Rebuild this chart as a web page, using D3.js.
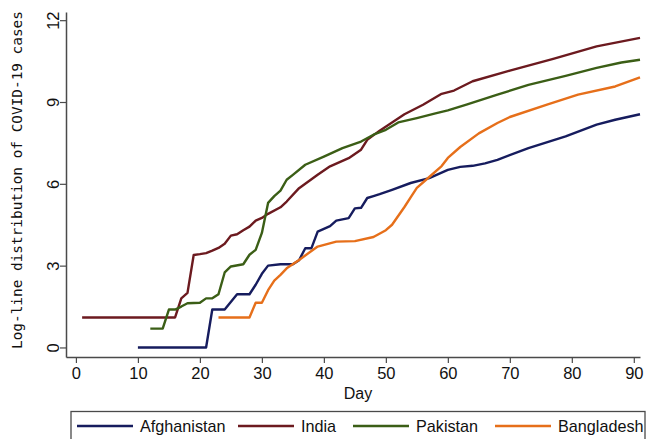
<!DOCTYPE html>
<html>
<head>
<meta charset="utf-8">
<script src="https://cdn.jsdelivr.net/npm/d3@7"></script>
<style>
  body { margin: 0; background: #fff; }
  svg { display: block; }
</style>
</head>
<body>
<svg id="chart" width="646" height="439"></svg>
<script>
// data, [day, log cases]
let afghanistan = [[10,0],[21,0],[22,1.39],[24,1.39],[26,1.95],[28,1.95],[29,2.3],[30,2.7],[31,3.0],[33,3.05],[35,3.05],[36,3.2],[37,3.64],[38,3.64],[39,4.25],[40,4.35],[41,4.45],[42,4.65],[44,4.74],[45,5.1],[46,5.12],[47,5.48],[48,5.55],[49,5.62],[51,5.78],[54,6.03],[57,6.21],[60,6.51],[62,6.62],[64,6.66],[66,6.75],[68,6.88],[73,7.31],[79,7.74],[84,8.17],[87,8.35],[91,8.55]];
let india = [[1,1.1],[16,1.1],[17,1.8],[18,2.0],[19,3.39],[20,3.42],[21,3.46],[22,3.55],[23,3.65],[24,3.8],[25,4.1],[26,4.15],[27,4.3],[28,4.43],[29,4.65],[30,4.75],[31,4.9],[33,5.14],[34,5.35],[36,5.84],[39,6.33],[41,6.64],[44,6.94],[46,7.25],[47,7.61],[49,7.95],[51,8.25],[53,8.55],[56,8.9],[59,9.3],[61,9.42],[64,9.76],[70,10.15],[77,10.58],[84,11.04],[91,11.35]];
let pakistan = [[12,0.69],[14,0.69],[15,1.39],[16,1.39],[17,1.5],[18,1.62],[20,1.64],[21,1.8],[22,1.8],[23,1.95],[24,2.75],[25,2.97],[27,3.05],[28,3.4],[29,3.58],[30,4.2],[31,5.3],[32,5.55],[33,5.75],[34,6.15],[35,6.33],[37,6.7],[40,7.0],[43,7.31],[46,7.55],[48,7.8],[50,7.98],[52,8.25],[55,8.41],[58,8.58],[60,8.69],[63,8.9],[68,9.27],[73,9.63],[79,9.96],[84,10.25],[88,10.45],[91,10.55]];
let bangladesh = [[23,1.1],[28,1.1],[29,1.64],[30,1.64],[31,2.1],[32,2.45],[33,2.66],[34,2.9],[36,3.21],[39,3.7],[42,3.88],[45,3.9],[48,4.05],[50,4.3],[51,4.5],[53,5.15],[54,5.5],[55,5.85],[57,6.25],[59,6.65],[60,6.95],[62,7.35],[65,7.85],[68,8.23],[70,8.45],[76,8.9],[81,9.27],[87,9.57],[91,9.9]];

let countries = ['Afghanistan', 'India', 'Pakistan', 'Bangladesh'];
let colors = ['#161c5e', '#6c1a1f', '#3b5e16', '#e66f1a'];
let xTicks = [0, 10, 20, 30, 40, 50, 60, 70, 80, 90];
let yTicks = [0, 3, 6, 9, 12];

let series = [afghanistan, india, pakistan, bangladesh];

let svg = d3.select('#chart');

// plot box
let plotLeft = 66, plotRight = 640, plotTop = 12, plotBottom = 357;

let x = d3.scaleLinear().domain([-1.6, 91]).range([plotLeft, plotRight]);
let y = d3.scaleLinear().domain([-0.35, 12.3]).range([plotBottom, plotTop]);

// axes
let xAxis = svg.append('g')
    .attr('transform', 'translate(0,' + plotBottom + ')')
    .call(d3.axisBottom(x).tickValues(xTicks).tickSize(6).tickPadding(4).tickSizeOuter(0));
let yAxis = svg.append('g')
    .attr('transform', 'translate(' + plotLeft + ',0)')
    .call(d3.axisLeft(y).tickValues(yTicks).tickSize(6).tickPadding(4).tickSizeOuter(0));

[xAxis, yAxis].forEach(function(a) {
    a.select('.domain').attr('stroke', '#4a4a4a').attr('stroke-width', 1.5);
    a.selectAll('.tick line').attr('stroke', '#4a4a4a').attr('stroke-width', 1.2);
    a.selectAll('text')
        .attr('fill', '#111')
        .style('font-family', '"Liberation Sans", Arial, sans-serif')
        .style('font-size', '16.5px');
});

// y labels are turned like stata does
yAxis.selectAll('.tick text')
    .attr('x', null)
    .attr('text-anchor', 'middle')
    .attr('transform', 'translate(-13,0) rotate(-90)')
    .attr('dy', '0.35em');

// axis titles
svg.append('text')
    .attr('x', 358).attr('y', 399)
    .attr('text-anchor', 'middle')
    .style('font-family', '"Liberation Sans", Arial, sans-serif')
    .style('font-size', '16px')
    .attr('fill', '#111')
    .text('Day');

svg.append('text')
    .attr('transform', 'translate(22,180) rotate(-90)')
    .attr('text-anchor', 'middle')
    .style('font-family', '"DejaVu Sans Mono", monospace')
    .style('font-size', '14.4px')
    .attr('fill', '#111')
    .text('Log-line distribution of COVID-19 cases');

// lines
let line = d3.line()
    .x(function(d) { return x(d[0]); })
    .y(function(d) { return y(d[1]); });

series.forEach(function(s, i) {
    svg.append('path')
        .datum(s)
        .attr('d', line)
        .attr('fill', 'none')
        .attr('stroke', colors[i])
        .attr('stroke-width', 2.4)
        .attr('stroke-linejoin', 'round');
});

// legend
svg.append('rect')
    .attr('x', 71).attr('y', 411.5)
    .attr('width', 574).attr('height', 40)
    .attr('fill', 'none')
    .attr('stroke', '#4a4a4a')
    .attr('stroke-width', 1.3);

let legendX = [77, 238, 353, 495];
countries.forEach(function(c, i) {
    let g = svg.append('g').attr('transform', 'translate(' + legendX[i] + ',426)');
    g.append('line')
        .attr('x1', 0).attr('x2', 56)
        .attr('stroke', colors[i])
        .attr('stroke-width', 2.4);
    g.append('text')
        .attr('x', 63).attr('dy', '0.36em')
        .style('font-family', '"Liberation Sans", Arial, sans-serif')
        .style('font-size', '16.2px')
        .attr('fill', '#111')
        .text(c);
});
</script>
</body>
</html>
